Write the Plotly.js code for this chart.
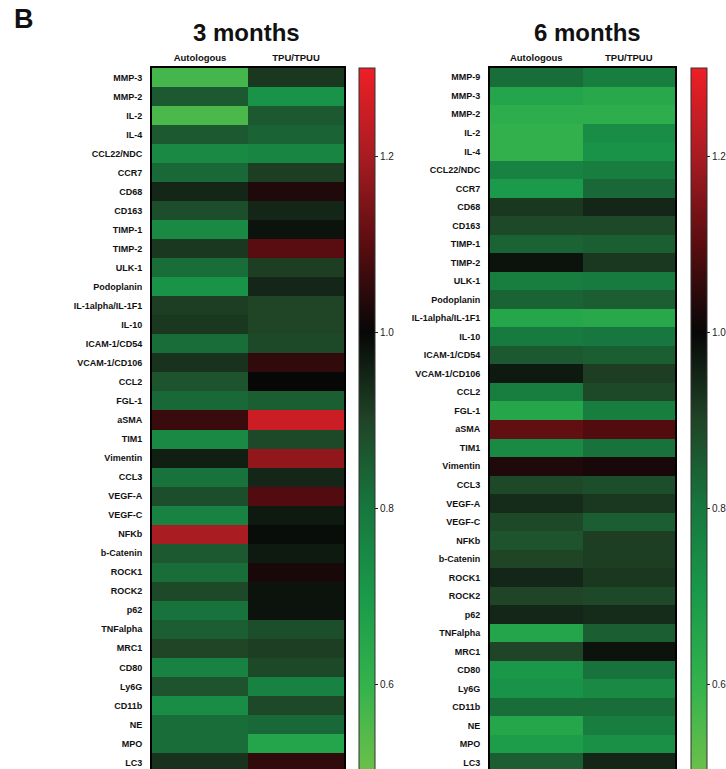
<!DOCTYPE html>
<html>
<head>
<meta charset="utf-8">
<script src="https://cdn.plot.ly/plotly-3.0.1.min.js"></script>
<style>html,body{margin:0;padding:0;background:#fff;overflow:hidden;width:726px;height:769px;}#chart{width:726px;height:773px;}</style>
</head>
<body>
<div id="chart"></div>
<script>
var groups = ["Autologous", "TPU/TPUU"];

var markers3 = ["MMP-3","MMP-2","IL-2","IL-4","CCL22/NDC","CCR7","CD68","CD163","TIMP-1","TIMP-2","ULK-1","Podoplanin","IL-1alpha/IL-1F1","IL-10","ICAM-1/CD54","VCAM-1/CD106","CCL2","FGL-1","aSMA","TIM1","Vimentin","CCL3","VEGF-A","VEGF-C","NFKb","b-Catenin","ROCK1","ROCK2","p62","TNFalpha","MRC1","CD80","Ly6G","CD11b","NE","MPO","LC3"];
var auto3 = [0.57,0.86,0.56,0.86,0.75,0.83,0.95,0.88,0.75,0.92,0.82,0.72,0.91,0.92,0.82,0.93,0.87,0.83,1.06,0.75,0.96,0.81,0.88,0.77,1.20,0.86,0.82,0.89,0.81,0.85,0.90,0.77,0.87,0.74,0.82,0.82,0.93];
var tpu3  = [0.92,0.72,0.86,0.84,0.76,0.91,1.03,0.95,0.98,1.10,0.91,0.95,0.90,0.90,0.89,1.05,1.00,0.85,1.25,0.89,1.17,0.95,1.09,0.97,0.99,0.97,1.02,0.98,0.98,0.88,0.91,0.89,0.77,0.89,0.83,0.66,1.05];

var markers6 = ["MMP-9","MMP-3","MMP-2","IL-2","IL-4","CCL22/NDC","CCR7","CD68","CD163","TIMP-1","TIMP-2","ULK-1","Podoplanin","IL-1alpha/IL-1F1","IL-10","ICAM-1/CD54","VCAM-1/CD106","CCL2","FGL-1","aSMA","TIM1","Vimentin","CCL3","VEGF-A","VEGF-C","NFKb","b-Catenin","ROCK1","ROCK2","p62","TNFalpha","MRC1","CD80","Ly6G","CD11b","NE","MPO","LC3"];
var auto6 = [0.82,0.66,0.62,0.61,0.61,0.77,0.70,0.92,0.89,0.84,0.98,0.78,0.84,0.65,0.79,0.86,0.97,0.78,0.65,1.11,0.75,1.03,0.89,0.94,0.89,0.87,0.90,0.95,0.90,0.95,0.66,0.90,0.71,0.72,0.82,0.65,0.69,0.85];
var tpu6  = [0.78,0.64,0.62,0.74,0.72,0.78,0.83,0.95,0.89,0.85,0.92,0.79,0.85,0.64,0.80,0.85,0.91,0.89,0.78,1.09,0.81,1.02,0.88,0.92,0.85,0.91,0.91,0.92,0.89,0.94,0.85,0.98,0.81,0.75,0.82,0.78,0.73,0.95];

var titles = ["3 months", "6 months"];
var colorTicks = [0.6, 0.8, 1.0, 1.2];
var zMin = 0.5, zMax = 1.3;

var scale = [
  [0.000, "#6cc04a"],
  [0.125, "#33b24c"],
  [0.250, "#1a9a4a"],
  [0.375, "#17773e"],
  [0.500, "#1f4426"],
  [0.625, "#070707"],
  [0.750, "#5a0d10"],
  [0.875, "#a81c22"],
  [1.000, "#ee1f26"]
];

function rows(markers, a, b) {
  return markers.map(function (m, i) { return [a[i], b[i]]; });
}

var FONT = "Arial, 'Liberation Sans', Helvetica, sans-serif";
var W = 726;

function cbar(xpx) {
  return {
    x: xpx / W, xanchor: "left", xpad: 0,
    y: 0.5, yanchor: "middle", ypad: 0,
    len: 1, lenmode: "fraction",
    thickness: 16, thicknessmode: "pixels",
    outlinewidth: 1, outlinecolor: "#333",
    tickvals: colorTicks, tickformat: ".1f",
    ticks: "outside", ticklen: 3, tickcolor: "#222",
    tickfont: { family: FONT, size: 10, color: "#222" }
  };
}

var traces = [
  {
    type: "heatmap", x: groups, y: markers3, z: rows(markers3, auto3, tpu3),
    zmin: zMin, zmax: zMax, colorscale: scale, xaxis: "x", yaxis: "y",
    colorbar: cbar(359), hovertemplate: "%{y} %{x}: %{z}<extra></extra>"
  },
  {
    type: "heatmap", x: groups, y: markers6, z: rows(markers6, auto6, tpu6),
    zmin: zMin, zmax: zMax, colorscale: scale, xaxis: "x2", yaxis: "y2",
    colorbar: cbar(691), hovertemplate: "%{y} %{x}: %{z}<extra></extra>"
  }
];

function xax(d0, d1) {
  return {
    domain: [d0 / W, d1 / W], side: "top", type: "category",
    showline: true, mirror: true, linecolor: "#000", linewidth: 2,
    ticks: "", showgrid: false, zeroline: false, ticklabelstandoff: 1,
    tickfont: { family: FONT, size: 9.5, color: "#111", weight: "bold" },
    fixedrange: true
  };
}
function yax(anchor) {
  return {
    anchor: anchor, type: "category", autorange: "reversed",
    showline: true, mirror: true, linecolor: "#000", linewidth: 2,
    ticks: "", showgrid: false, zeroline: false, ticklabelstandoff: 6,
    tickfont: { family: FONT, size: 9, color: "#111", weight: "bold" },
    fixedrange: true
  };
}

var x1 = xax(152, 344); x1.anchor = "y";
var x2 = xax(490, 675); x2.anchor = "y2";

var layout = {
  width: 726, height: 773,
  margin: { l: 0, r: 0, t: 68, b: 1, autoexpand: false },
  paper_bgcolor: "#fff", plot_bgcolor: "#fff",
  font: { family: FONT },
  showlegend: false,
  xaxis: x1, yaxis: yax("x"),
  xaxis2: x2, yaxis2: yax("x2"),
  annotations: [
    { text: "<b>B</b>", xref: "paper", yref: "paper", x: 12 / W, xanchor: "left",
      y: 1, yanchor: "bottom", yshift: 32, showarrow: false,
      font: { family: FONT, size: 27, color: "#111" } },
    { text: "<b>" + titles[0] + "</b>", xref: "paper", yref: "paper", x: 246 / W, xanchor: "center",
      y: 1, yanchor: "bottom", yshift: 20, showarrow: false,
      font: { family: FONT, size: 24, color: "#111" } },
    { text: "<b>" + titles[1] + "</b>", xref: "paper", yref: "paper", x: 587 / W, xanchor: "center",
      y: 1, yanchor: "bottom", yshift: 20, showarrow: false,
      font: { family: FONT, size: 24, color: "#111" } }
  ]
};

Plotly.newPlot("chart", traces, layout, { displayModeBar: false, staticPlot: true });
</script>
</body>
</html>
